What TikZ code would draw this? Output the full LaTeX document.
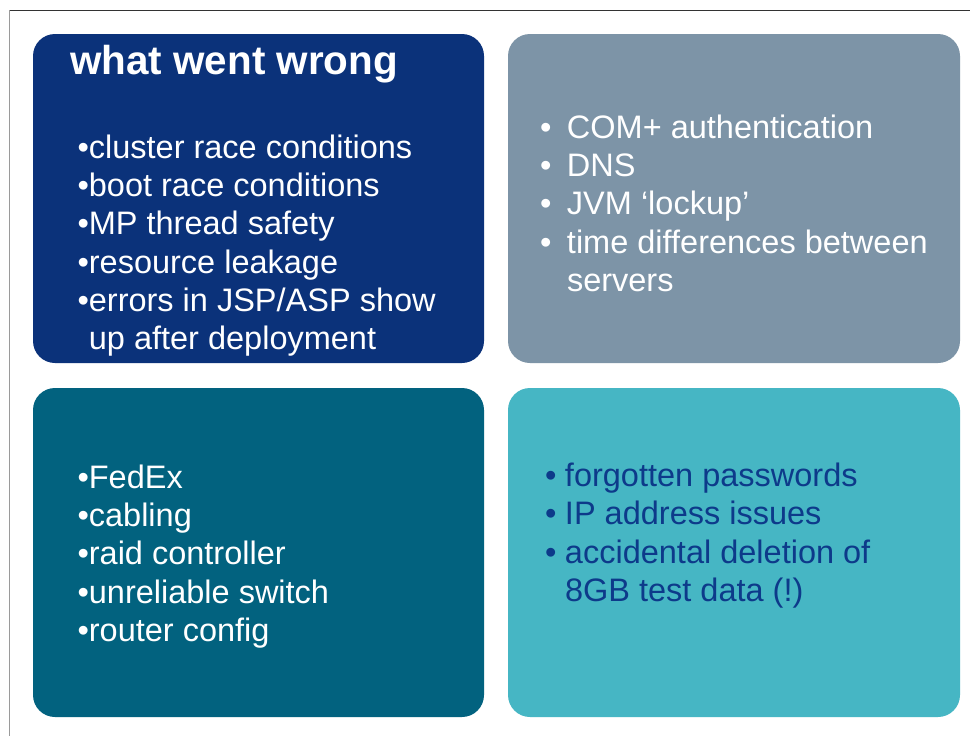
\documentclass[tikz,border=0pt]{standalone}
\usepackage{fontspec}
\setmainfont{Liberation Sans}
\definecolor{boxA}{HTML}{0B327A}
\definecolor{boxB}{HTML}{7D94A7}
\definecolor{boxC}{HTML}{02627F}
\definecolor{boxD}{HTML}{46B6C4}
\definecolor{txtD}{HTML}{0D3A8A}
\definecolor{frameTop}{HTML}{333333}
\definecolor{frameLeft}{HTML}{9A9A9A}
\begin{document}
\begin{tikzpicture}[x=1pt,y=-1pt,
  item/.style={anchor=base west,inner sep=0pt,outer sep=0pt,text=white,
    font=\fontsize{32.5}{39}\selectfont},
  itemD/.style={item,text=txtD},
  titlestyle/.style={anchor=base west,inner sep=0pt,text=white,
    font=\fontsize{40.4}{48}\selectfont\bfseries}]
\useasboundingbox (0,0) rectangle (970,736);
\fill[white] (0,0) rectangle (970,736);
% frame lines
\coordinate (tl) at (9,10);
\coordinate (tr) at (970,10);
\coordinate (bl) at (9,736);
\draw[frameTop,line width=1pt] (tl) -- (tr);
\draw[frameLeft,line width=1pt] (tl) -- (bl);
% panels
\fill[boxA,rounded corners=22pt] (33,34) rectangle (484,363);
\fill[boxB,rounded corners=22pt] (508,34) rectangle (960,363);
\fill[boxC,rounded corners=22pt] (33,388) rectangle (484,717);
\fill[boxD,rounded corners=22pt] (508,388) rectangle (960,717);
% panel 1
\node[titlestyle] (title) at (70,74) {what went wrong};
\node[item] (a1) at (77.5,158) {•cluster race conditions};
\node[item] (a2) at (77.5,196) {•boot race conditions};
\node[item] (a3) at (77.5,234) {•MP thread safety};
\node[item] (a4) at (77.5,273) {•resource leakage};
\node[item] (a5) at (77.5,311) {•errors in JSP/ASP show};
\node[item] (a6) at (77.5,349) {\phantom{•}up after deployment};
% panel 2
\node[item] (b1) at (540,138) {\makebox[27pt][l]{•}COM+ authentication};
\node[item] (b2) at (540,176) {\makebox[27pt][l]{•}DNS};
\node[item] (b3) at (540,214) {\makebox[27pt][l]{•}JVM ‘lockup’};
\node[item] (b4) at (540,253) {\makebox[27pt][l]{•}time differences between};
\node[item] (b5) at (540,291) {\makebox[27pt][l]{}servers};
% panel 3
\node[item] (c1) at (77.5,488) {•FedEx};
\node[item] (c2) at (77.5,526) {•cabling};
\node[item] (c3) at (77.5,564) {•raid controller};
\node[item] (c4) at (77.5,603) {•unreliable switch};
\node[item] (c5) at (77.5,641) {•router config};
% panel 4
\node[itemD] (d1) at (545,486) {\makebox[20pt][l]{•}forgotten passwords};
\node[itemD] (d2) at (545,524) {\makebox[20pt][l]{•}IP address issues};
\node[itemD] (d3) at (545,563) {\makebox[20pt][l]{•}accidental deletion of};
\node[itemD] (d4) at (545,601) {\makebox[20pt][l]{}8GB test data (!)};
\end{tikzpicture}
\end{document}
